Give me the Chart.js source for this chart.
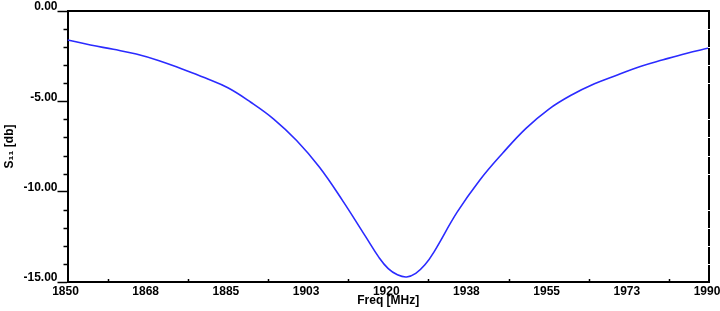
<!DOCTYPE html>
<html>
<head>
<meta charset="utf-8">
<script src="https://cdn.jsdelivr.net/npm/chart.js@4.4.0/dist/chart.umd.min.js"></script>
<style>
  html, body { margin: 0; padding: 0; background: #fff; }
  #wrap { width: 720px; height: 311px; }
</style>
</head>
<body>
<div id="wrap"><canvas id="s11Chart"></canvas></div>
<script>
// ค่าที่อ่านจากกราฟต้นฉบับ (S11 เทียบกับความถี่)
const freqMHz = [1850, 1855, 1860, 1865, 1870, 1875, 1880, 1885, 1890, 1895, 1900, 1905, 1910, 1915, 1918,
                 1920, 1922, 1924, 1926, 1928, 1930, 1935, 1940, 1945, 1950, 1955, 1960, 1965, 1970, 1975,
                 1980, 1985, 1990];
const s11dB = [-1.60, -1.88, -2.12, -2.38, -2.75, -3.21, -3.70, -4.25, -5.05, -5.98, -7.17, -8.65, -10.48, -12.46, -13.65,
               -14.26, -14.60, -14.72, -14.52, -14.05, -13.33, -11.15, -9.35, -7.86, -6.51, -5.44, -4.65, -4.03, -3.54, -3.07,
               -2.70, -2.35, -2.05];

// ป้ายแกน
const xTickLabels = ['1850', '1868', '1885', '1903', '1920', '1938', '1955', '1973', '1990'];
const yTickLabels = ['0.00', '-5.00', '-10.00', '-15.00']; // เรียงจากบนลงล่าง

const axisFont = { family: "'Liberation Sans', Arial, sans-serif", size: 12, weight: 'bold' };

// วาดกรอบด้านบน/ขวา และขีดย่อยของแกน
const frameAndTicks = {
  id: 'frameAndTicks',
  afterDraw(chart) {
    const { ctx, chartArea: a, scales: { x, y } } = chart;
    ctx.save();
    ctx.strokeStyle = '#000';
    ctx.lineWidth = 2;
    ctx.beginPath();
    ctx.moveTo(a.left, a.top);
    ctx.lineTo(a.right, a.top);
    ctx.lineTo(a.right, a.bottom);
    ctx.stroke();

    // ขีดย่อยแกน Y ทุก 1 dB
    ctx.lineWidth = 1.5;
    for (let v = -14; v < 0; v++) {
      if (v % 5 === 0) continue;
      const py = Math.round(y.getPixelForValue(v)) + 0.5;
      ctx.strokeStyle = '#000';
      ctx.beginPath(); ctx.moveTo(a.left - 4, py); ctx.lineTo(a.left, py); ctx.stroke();
      // รอยขาวเล็กๆ บนเส้นขอบขวา
      ctx.strokeStyle = '#fff';
      ctx.lineWidth = 1;
      ctx.beginPath(); ctx.moveTo(a.right - 1, py); ctx.lineTo(a.right + 1, py); ctx.stroke();
      ctx.lineWidth = 1.5;
    }

    // ขีดแกน X ตรงกลางระหว่างป้าย (ชี้เข้าด้านใน)
    ctx.strokeStyle = '#000';
    for (let i = 0; i < x.ticks.length - 1; i++) {
      const mid = (x.ticks[i].value + x.ticks[i + 1].value) / 2;
      const px = Math.round(x.getPixelForValue(mid)) + 0.5;
      ctx.beginPath(); ctx.moveTo(px, a.bottom); ctx.lineTo(px, a.bottom - 3); ctx.stroke();
    }
    ctx.restore();
  }
};

new Chart(document.getElementById('s11Chart'), {
  type: 'line',
  data: {
    datasets: [{
      label: 'S11',
      data: freqMHz.map((f, i) => ({ x: f, y: s11dB[i] })),
      borderColor: '#2b2bff',
      borderWidth: 1.6,
      pointRadius: 0,
      fill: false,
      tension: 0.4
    }]
  },
  options: {
    responsive: true,
    maintainAspectRatio: false,
    animation: false,
    events: [],
    layout: { padding: { top: 11, right: 11, left: 0, bottom: 0 } },
    plugins: { legend: { display: false }, tooltip: { enabled: false } },
    scales: {
      x: {
        type: 'linear',
        min: 1850,
        max: 1990,
        afterBuildTicks: s => { s.ticks = xTickLabels.map((_, i) => ({ value: 1850 + i * 17.5 })); },
        ticks: {
          color: '#000',
          font: axisFont,
          padding: 2,
          labelOffset: -2,
          maxRotation: 0,
          autoSkip: false,
          callback: (v, i) => xTickLabels[i]
        },
        grid: { display: true, drawOnChartArea: false, drawTicks: false },
        border: { display: true, color: '#000', width: 2 },
        title: { display: true, text: 'Freq [MHz]', color: '#000', font: axisFont, padding: { top: 0, bottom: 3 } },
        afterFit: s => { s.height = 29; s.paddingLeft = 0; s.paddingRight = 0; }
      },
      y: {
        min: -15,
        max: 0,
        afterBuildTicks: s => { s.ticks = yTickLabels.map((_, i) => ({ value: -15 + i * 5 })); },
        ticks: {
          color: '#000',
          font: axisFont,
          padding: 0,
          labelOffset: -4,
          callback: (v, i, t) => yTickLabels[t.length - 1 - i]
        },
        grid: { display: true, drawOnChartArea: false, drawTicks: true, tickLength: 10, tickColor: '#000', tickWidth: 1.5 },
        border: { display: true, color: '#000', width: 2 },
        title: { display: true, text: 'S\u2081\u2081 [db]', color: '#000', font: axisFont, padding: { top: 2, bottom: 0 } },
        afterFit: s => { s.width = 67.5; s.paddingTop = 0; s.paddingBottom = 0; }
      }
    }
  },
  plugins: [frameAndTicks]
});
</script>
</body>
</html>
